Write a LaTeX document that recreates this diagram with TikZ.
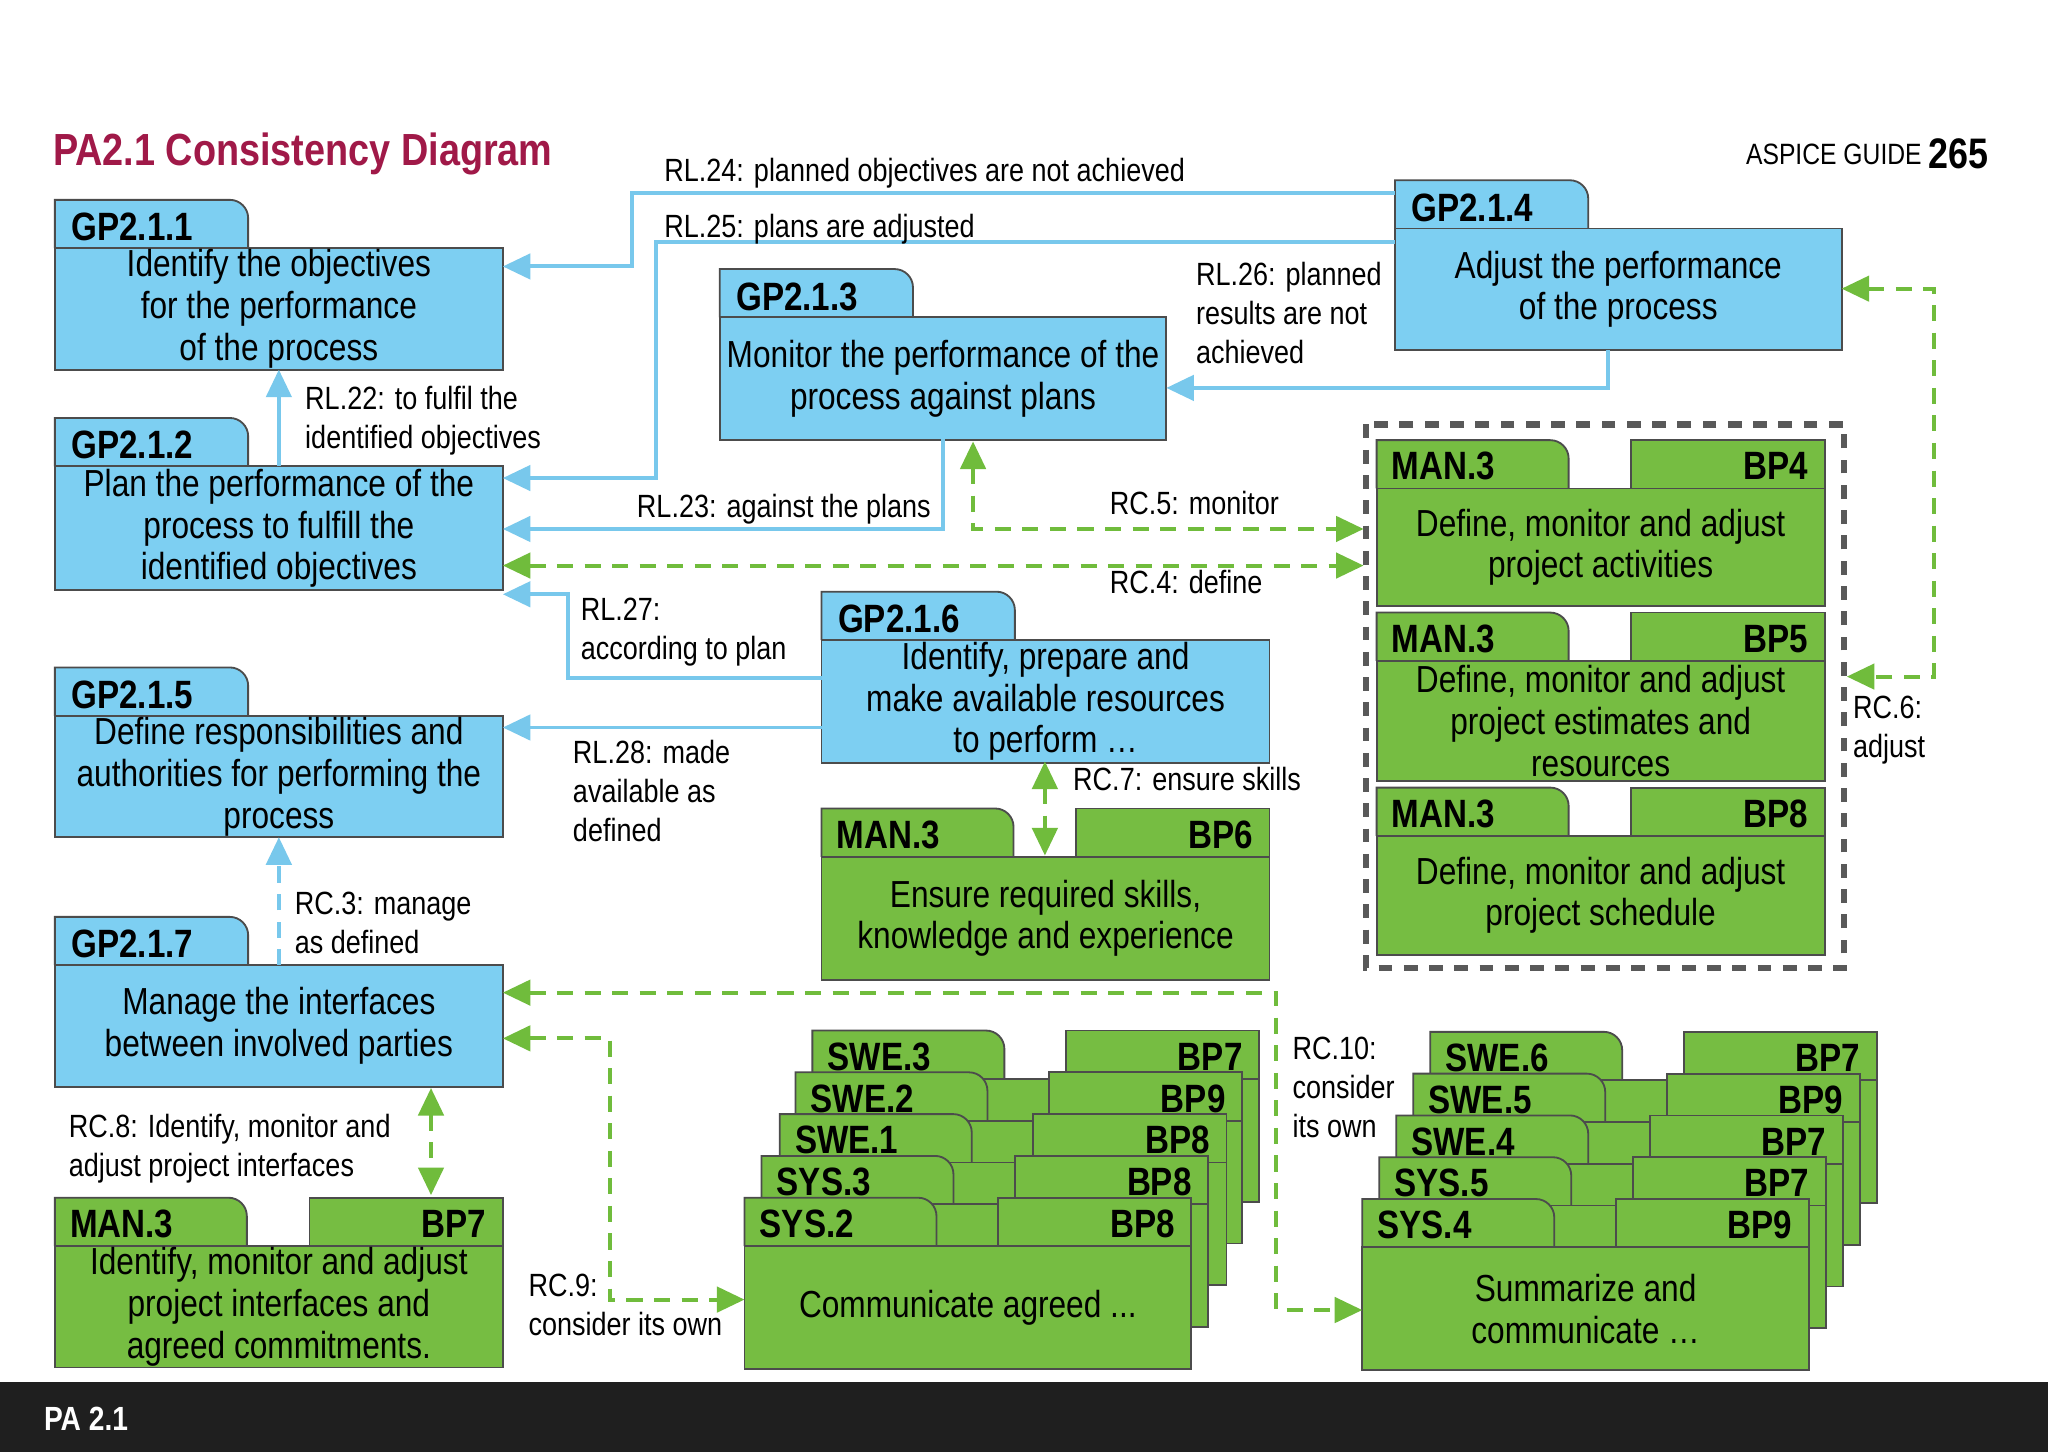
\documentclass[tikz,border=0pt]{standalone}
\usepackage{fontspec}
\setmainfont{Liberation Sans}[FakeStretch=0.84]
\usetikzlibrary{arrows.meta}
\definecolor{bl}{RGB}{125,207,242}
\definecolor{gr}{RGB}{118,189,66}
\definecolor{lb}{RGB}{120,200,236}
\definecolor{lg}{RGB}{112,188,60}
\definecolor{tt}{RGB}{160,25,72}
\tikzset{
 bodyst/.style={draw=black!70,line width=0.4pt,inner sep=0,outer sep=0,align=center,font=\fontsize{8.2}{9.1}\selectfont},
 tabst/.style={draw=black!70,line width=0.4pt},
 tabtxt/.style={font=\bfseries\fontsize{8.6}{9}\selectfont,inner sep=0},
 lbl/.style={font=\fontsize{7}{8.5}\selectfont,align=left,inner sep=0,anchor=north west},
 rl/.style={draw=lb,line width=0.85pt,-{Triangle[length=6pt,width=5.5pt]}},
 rc/.style={draw=lg,line width=0.85pt,dash pattern=on 3.5pt off 2.5pt,{Triangle[length=6pt,width=5.5pt]}-{Triangle[length=6pt,width=5.5pt]}},
}
\newcommand\bunit[7]{%
 \draw[tabst,fill=bl] (#2,#3+37) -- (#2,#3) [rounded corners=4pt]-- (#2+148,#3) [sharp corners]-- (#2+148,#3+37);
 \node[tabtxt,anchor=west] at (#2+12,#3+21) {#6};
 \node[bodyst,fill=bl,minimum width=#4*0.01cm,minimum height=#5*0.01cm,anchor=north west] (#1) at (#2,#3+37) {#7};}
\newcommand\gunit[8]{%
 \draw[tabst,fill=gr] (#2,#3+37) -- (#2,#3) [rounded corners=4pt]-- (#2+147,#3) [sharp corners]-- (#2+147,#3+37);
 \draw[tabst,fill=gr] (#2+#4,#3+37) -- (#2+#4,#3) -- (#2+#4-148,#3) [rounded corners=4pt]-- (#2+#4-148,#3+37);
 \node[tabtxt,anchor=west] at (#2+11,#3+20) {#6};
 \node[tabtxt,anchor=east] at (#2+#4-12,#3+20) {#7};
 \node[bodyst,fill=gr,minimum width=#4*0.01cm,minimum height=#5*0.01cm,anchor=north west] (#1) at (#2,#3+37) {#8};}
\begin{document}
\begin{tikzpicture}[x=0.01cm,y=-0.01cm]
\useasboundingbox (0,0) rectangle (1568,1112);
\fill[white] (0,0) rectangle (1568,1112);
\fill[black!88] (0,1058) rectangle (1568,1112);
\node[anchor=west,text=white,font=\bfseries\fontsize{7.3}{8}\selectfont,inner sep=0] (foot) at (33,1086) {PA 2.1};
\node[anchor=west,text=tt,font=\bfseries\fontsize{9.8}{11}\selectfont,inner sep=0] (title) at (40,118) {PA2.1 Consistency Diagram};
\node[anchor=east,font=\fontsize{6.4}{8}\selectfont,inner sep=0] (guide) at (1472,118) {ASPICE GUIDE};
\node[anchor=west,font=\bfseries\fontsize{9.3}{10}\selectfont,inner sep=0] (page) at (1476,118) {265};

\bunit{g1}{42}{153}{343}{93}{GP2.1.1}{Identify the objectives\\for the performance\\of the process}
\bunit{g2}{42}{320}{343}{95}{GP2.1.2}{Plan the performance of the\\process to fulfill the\\identified objectives}
\bunit{g5}{42}{511}{343}{93}{GP2.1.5}{Define responsibilities and\\authorities for performing the\\process}
\bunit{g7}{42}{702}{343}{93}{GP2.1.7}{Manage the interfaces\\between involved parties}
\bunit{g3}{551}{206}{342}{94}{GP2.1.3}{Monitor the performance of the\\process against plans}
\bunit{g4}{1068}{138}{342}{93}{GP2.1.4}{Adjust the performance\\of the process}
\bunit{g6}{629}{453}{343}{94}{GP2.1.6}{Identify, prepare and\\make available resources\\to perform …}

\gunit{m6}{629}{619}{343}{94}{MAN.3}{BP6}{Ensure required skills,\\knowledge and experience}
\gunit{m7}{42}{917}{343}{93}{MAN.3}{BP7}{Identify, monitor and adjust\\project interfaces and\\agreed commitments.}
\draw[black!65,line width=1.4pt,dash pattern=on 3pt off 2.5pt] (1046,325) rectangle (1412,741);
\gunit{m4}{1054}{337}{343}{90}{MAN.3}{BP4}{Define, monitor and adjust\\project activities}
\gunit{m5}{1054}{469}{343}{92}{MAN.3}{BP5}{Define, monitor and adjust\\project estimates and\\resources}
\gunit{m8}{1054}{603}{343}{91}{MAN.3}{BP8}{Define, monitor and adjust\\project schedule}

\gunit{a4}{622}{789}{342}{94}{SWE.3}{BP7}{}
\gunit{a3}{609}{821}{342}{94}{SWE.2}{BP9}{}
\gunit{a2}{597}{853}{342}{94}{SWE.1}{BP8}{}
\gunit{a1}{583}{885}{342}{94}{SYS.3}{BP8}{}
\gunit{a0}{570}{917}{342}{94}{SYS.2}{BP8}{Communicate agreed ...}
\gunit{b4}{1095}{790}{342}{94}{SWE.6}{BP7}{}
\gunit{b3}{1082}{822}{342}{94}{SWE.5}{BP9}{}
\gunit{b2}{1069}{854}{342}{94}{SWE.4}{BP7}{}
\gunit{b1}{1056}{886}{342}{94}{SYS.5}{BP7}{}
\gunit{b0}{1043}{918}{342}{94}{SYS.4}{BP9}{Summarize and\\communicate …}

\draw[rl] (g4.north west) ++(0,-27) coordinate (s24) -| (484,204) coordinate(k24) -- (g1.east|-k24);
\node[lbl,anchor=south west] (t24) at (508,145) {RL.24: planned objectives are not achieved};
\draw[rl] (g4.north west) ++(0,10) coordinate (s25) -| (502,366) coordinate(k25) -- (g2.east|-k25);
\node[lbl,anchor=south west] (t25) at (508,188) {RL.25: plans are adjusted};
\draw[rl] (1231,268) coordinate (s26) |- (g3.east|-0,297);
\node[lbl] (t26) at (915,200) {RL.26: planned\\results are not\\achieved};
\draw[rl] (g2.north) -- (g1.south);
\node[lbl] (t22) at (233,295) {RL.22: to fulfil the\\identified objectives};
\draw[rl] (722,336) |- (g2.east|-0,405);
\node[lbl,anchor=south west] (t23) at (487,402) {RL.23: against the plans};
\draw[rl] (g6.west|-0,519) -| (435,455) -- (g2.east|-0,455);
\node[lbl] (t27) at (444,457) {RL.27:\\according to plan};
\draw[rl] (g6.west|-0,557) -- (g5.east|-0,557);
\node[lbl] (t28) at (438,566) {RL.28: made\\available as\\defined};
\draw[draw=lb,line width=0.85pt,dash pattern=on 3.5pt off 2.5pt,-{Triangle[length=6pt,width=5.5pt]}] (g7.north) -- (g5.south);
\node[lbl] (t3) at (225,682) {RC.3: manage\\as defined};

\draw[rc] (745,338) |- (1044,405);
\node[lbl] (t5) at (849,375) {RC.5: monitor};
\draw[rc] (g2.east|-0,433) -- (1044,433);
\node[lbl] (t4) at (849,436) {RC.4: define};
\draw[rc] (g4.east|-0,221) -- (1481,221) |- (1414,518);
\node[lbl] (t6) at (1418,532) {RC.6:\\adjust};
\draw[rc] (800,583) -- (800,655);
\node[lbl] (t7) at (821,587) {RC.7: ensure skills};
\draw[rc] (330,833) -- (330,915);
\node[lbl] (t8) at (52,852) {RC.8: Identify, monitor and\\adjust project interfaces};
\draw[rc] (g7.east|-0,795) -| (467,995) -- (a0.west|-0,995);
\node[lbl] (t9) at (404,975) {RC.9:\\consider its own};
\draw[rc] (g7.east|-0,760) -| (977,1003) -- (b0.west|-0,1003);
\node[lbl] (t10) at (989,793) {RC.10:\\consider\\its own};
\end{tikzpicture}
\end{document}
